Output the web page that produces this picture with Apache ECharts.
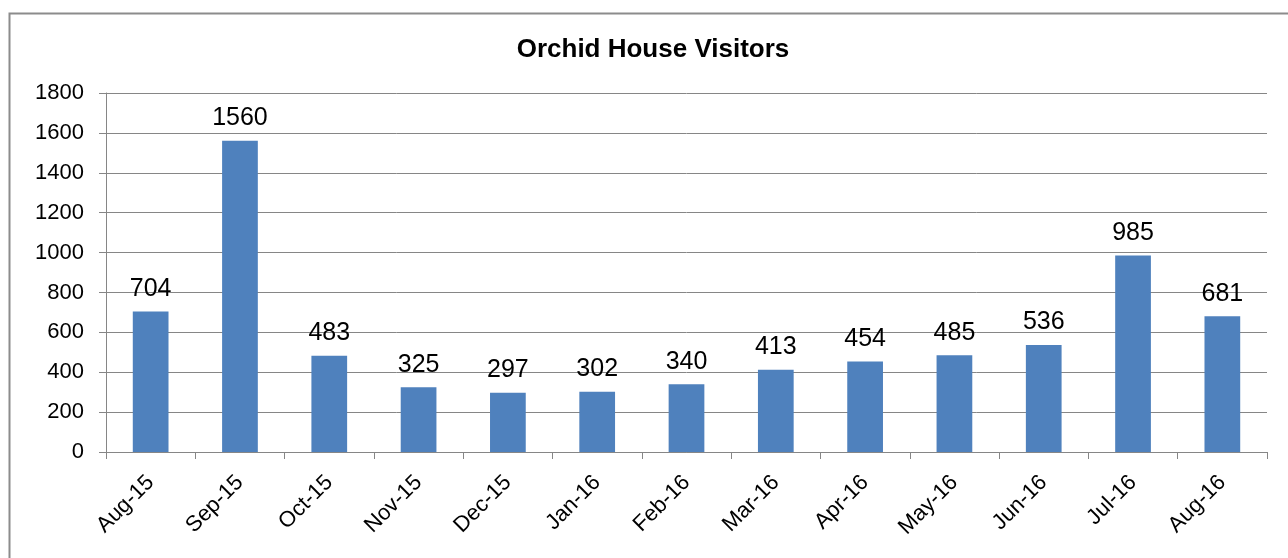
<!DOCTYPE html>
<html>
<head>
<meta charset="utf-8">
<script src="https://cdn.jsdelivr.net/npm/echarts@6/dist/echarts.min.js"></script>
<style>
html,body{margin:0;padding:0;background:#fff;}
#c{width:1288px;height:558px;}
</style>
</head>
<body>
<div id="c"></div>
<script>
const title = 'Orchid House Visitors';
const categories = ['Aug-15','Sep-15','Oct-15','Nov-15','Dec-15','Jan-16','Feb-16','Mar-16','Apr-16','May-16','Jun-16','Jul-16','Aug-16'];
const visitors = [704,1560,483,325,297,302,340,413,454,485,536,985,681];
const yTicks = {min:0, max:1800, interval:200};

const chart = echarts.init(document.getElementById('c'), null, {renderer:'canvas'});
const font = 'Liberation Sans, Arial, sans-serif';
chart.setOption({
  animation:false,
  backgroundColor:'#fff',
  graphic:[{
    type:'rect', left:7, top:11, silent:true,
    shape:{x:0,y:0,width:1300,height:560},
    style:{fill:'none', stroke:'#8c8c8c', lineWidth:2}
  }],
  title:{
    text:title, left:648, textAlign:'center', top:32,
    textStyle:{fontFamily:font, fontSize:26, fontWeight:'bold', color:'#000'}
  },
  grid:{left:106, right:21, top:93, bottom:106, containLabel:false},
  xAxis:{
    type:'category', data:categories,
    axisLine:{show:true, lineStyle:{color:'#868686', width:1}},
    axisTick:{show:true, alignWithLabel:false, length:7, lineStyle:{color:'#868686'}},
    axisLabel:{rotate:45, fontFamily:font, fontSize:22, color:'#000', margin:27, interval:0},
    splitLine:{show:false}
  },
  yAxis:{
    type:'value', min:yTicks.min, max:yTicks.max, interval:yTicks.interval,
    axisLine:{show:true, lineStyle:{color:'#868686', width:1}},
    axisTick:{show:true, length:7, lineStyle:{color:'#868686'}},
    axisLabel:{fontFamily:font, fontSize:22, color:'#000', margin:22, formatter:v=>String(v)},
    splitLine:{show:true, lineStyle:{color:'#868686', width:1}}
  },
  series:[{
    type:'bar', data:visitors, barWidth:'40%',
    itemStyle:{color:'#4F81BD'},
    label:{show:true, position:'top', distance:10, fontFamily:font, fontSize:25, color:'#000'}
  }]
});
</script>
</body>
</html>
